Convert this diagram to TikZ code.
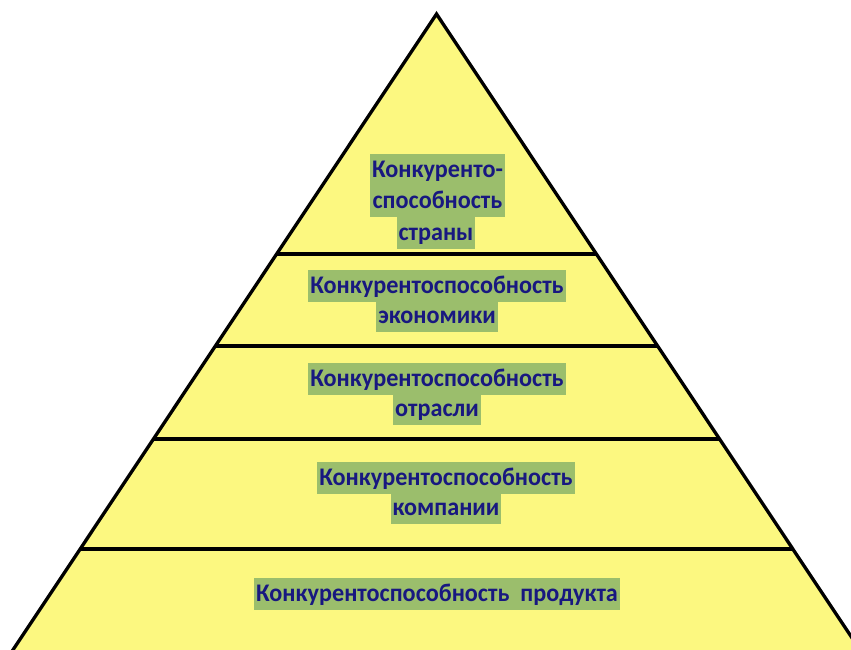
\documentclass[tikz,border=0pt]{standalone}
\usepackage{fontspec}
\setmainfont{Carlito}[FakeStretch=0.955]
\definecolor{pyellow}{RGB}{252,248,128}
\definecolor{pgreen}{RGB}{155,190,108}
\definecolor{pnavy}{RGB}{24,24,128}
\tikzset{
  lbl/.style={fill=pgreen, text=pnavy, font=\fontsize{19}{22}\bfseries\selectfont, inner xsep=1.5pt, inner ysep=0pt, text height=17.5pt, text depth=6pt},
  sep/.style={draw=black, line width=2.5pt},
  edge/.style={draw=black, line width=2.5pt, line join=miter}
}
\begin{document}
\begin{tikzpicture}[x=0.75pt,y=-0.75pt]
\useasboundingbox (0,0) rectangle (851,650);
\begin{scope}
\clip (0,0) rectangle (851,650);
\coordinate (apex) at (436.5,14);
\coordinate (bl) at (-20.4,700);
\coordinate (br) at (893.4,700);
\fill[pyellow] (apex) -- (bl) -- (br) -- cycle;
\coordinate (l1) at (276.7,254); \coordinate (r1) at (596.3,254);
\coordinate (l2) at (215.4,346); \coordinate (r2) at (657.6,346);
\coordinate (l3) at (153.4,439); \coordinate (r3) at (719.6,439);
\coordinate (l4) at (80.2,549);  \coordinate (r4) at (792.8,549);
\draw[sep] (l1) -- (r1);
\draw[sep] (l2) -- (r2);
\draw[sep] (l3) -- (r3);
\draw[sep] (l4) -- (r4);
\draw[edge] (bl) -- (apex) -- (br);
\end{scope}
% top
\node[lbl, minimum width=135*0.75pt] (t1) at (437.5,170) {Конкуренто-};
\node[lbl, minimum width=135*0.75pt] (t2) at (437.5,201) {способность};
\node[lbl] (t3) at (436,233) {страны};
% economy
\node[lbl] (e1) at (437,286) {Конкурентоспособность};
\node[lbl] (e2) at (437,316) {экономики};
% industry
\node[lbl] (i1) at (437,379) {Конкурентоспособность};
\node[lbl] (i2) at (437,409) {отрасли};
% company
\node[lbl] (c1) at (446,478) {Конкурентоспособность};
\node[lbl] (c2) at (446,508) {компании};
% product
\node[lbl] (p1) at (437,594) {Конкурентоспособность\ \ продукта};
\end{tikzpicture}
\end{document}
